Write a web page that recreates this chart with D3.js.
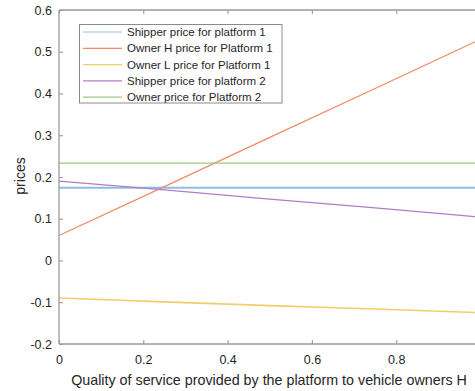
<!DOCTYPE html>
<html>
<head>
<meta charset="utf-8">
<script src="https://cdn.jsdelivr.net/npm/d3@7"></script>
<style>
  html, body { margin: 0; padding: 0; background: #fff; }
  svg { display: block; font-family: "Liberation Sans", Arial, sans-serif; }
</style>
</head>
<body>
<svg id="chart" width="475" height="391"></svg>
<script>
// Quality of service levels (x) and the price of each series at those levels
const quality = [0, 0.25, 0.5, 0.75, 1];
const shipperP1 = [0.174, 0.174, 0.174, 0.174, 0.174];
const ownerHP1 = [0.06, 0.177, 0.295, 0.412, 0.53];
const ownerLP1 = [-0.09, -0.099, -0.108, -0.116, -0.125];
const shipperP2 = [0.19, 0.169, 0.147, 0.126, 0.104];
const ownerP2 = [0.233, 0.233, 0.233, 0.233, 0.233];

const seriesNames = [
  "Shipper price for platform 1",
  "Owner H price for Platform 1",
  "Owner L price for Platform 1",
  "Shipper price for platform 2",
  "Owner price for Platform 2"
];
const seriesValues = [shipperP1, ownerHP1, ownerLP1, shipperP2, ownerP2];
const seriesColors = ["#8dbfe6", "#ee8b66", "#f3cd6a", "#b07cc6", "#9fc77f"];
const seriesWidths = [2, 1.2, 1.6, 1.2, 1.2];

const xTicks = [0, 0.2, 0.4, 0.6, 0.8];
const yTicks = [-0.2, -0.1, 0, 0.1, 0.2, 0.3, 0.4, 0.5, 0.6];

const svg = d3.select("#chart");
const plotLeft = 59, plotTop = 10, plotRight = 480.5, plotBottom = 344;

const x = d3.scaleLinear().domain([0, 1]).range([plotLeft, plotRight]);
const y = d3.scaleLinear().domain([-0.2, 0.6]).range([plotBottom, plotTop]);

const axisColor = "#9a9a9a";
const textColor = "#262626";

// Series lines
const line = d3.line().x((d, i) => x(quality[i])).y(d => y(d));
seriesValues.forEach((vals, k) => {
  svg.append("path")
    .datum(vals)
    .attr("d", line)
    .attr("fill", "none")
    .attr("stroke", seriesColors[k])
    .attr("stroke-width", seriesWidths[k]);
});

// Axes
const fmt = d => d === 0 ? "0" : String(Math.round(d * 10) / 10);
const xAxis = d3.axisBottom(x).tickValues(xTicks).tickSize(-4).tickPadding(11).tickFormat(fmt);
const yAxis = d3.axisLeft(y).tickValues(yTicks).tickSize(-4).tickPadding(7).tickFormat(fmt);
const xTop = d3.axisTop(x).tickValues(xTicks).tickSize(-4).tickFormat("");

function style(g) {
  g.select(".domain").attr("stroke", axisColor).attr("stroke-width", 1.3);
  g.selectAll(".tick line").attr("stroke", axisColor).attr("stroke-width", 1.1);
  g.selectAll(".tick text").attr("fill", textColor).attr("font-size", 12.5)
    .attr("font-family", "Liberation Sans, Arial, sans-serif");
}

svg.append("g").attr("transform", `translate(0,${plotBottom})`).call(xAxis).call(style)
  .select(".domain").attr("d", `M${plotLeft},0H${plotRight}`);
svg.append("g").attr("transform", `translate(${plotLeft},0)`).call(yAxis).call(style)
  .select(".domain").attr("d", `M0,${plotBottom}V${plotTop}`);
svg.append("g").attr("transform", `translate(0,${plotTop})`).call(xTop).call(style)
  .select(".domain").attr("d", `M${plotLeft},0H${plotRight}`);

// Axis titles
svg.append("text")
  .attr("x", 269).attr("y", 385)
  .attr("text-anchor", "middle")
  .attr("font-size", 14.3).attr("fill", textColor)
  .text("Quality of service provided by the platform to vehicle owners H");
svg.append("text")
  .attr("transform", "translate(25,176) rotate(-90)")
  .attr("text-anchor", "middle")
  .attr("font-size", 14).attr("fill", textColor)
  .text("prices");

// Legend
const lg = svg.append("g");
lg.append("rect")
  .attr("x", 79.5).attr("y", 24.5).attr("width", 202.5).attr("height", 78.5)
  .attr("fill", "#fff").attr("stroke", "#8a8a8a").attr("stroke-width", 1);
seriesNames.forEach((name, k) => {
  const cy = 32 + k * 16.3;
  lg.append("line")
    .attr("x1", 83).attr("x2", 122).attr("y1", cy).attr("y2", cy)
    .attr("stroke", seriesColors[k]).attr("stroke-width", 1.2);
  lg.append("text")
    .attr("x", 127).attr("y", cy + 4)
    .attr("font-size", 11.5).attr("fill", textColor)
    .text(name);
});
</script>
</body>
</html>
